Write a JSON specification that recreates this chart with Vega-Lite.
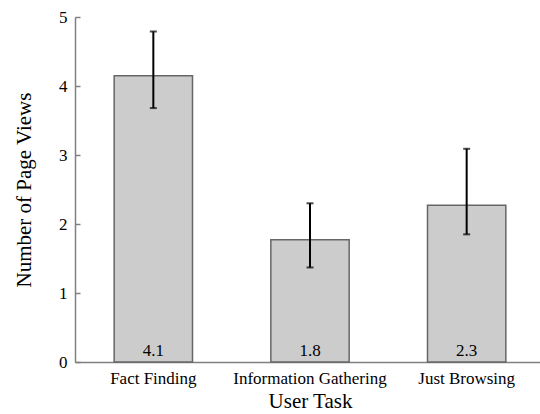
{
  "$schema": "https://vega.github.io/schema/vega-lite/v6.json",
  "width": 470,
  "height": 345,
  "autosize": {"type": "none"},
  "padding": {"left": 75, "top": 17, "right": 0, "bottom": 52},
  "background": "white",
  "data": {
    "values": [
      {"task": "Fact Finding", "mean": 4.15, "low": 3.68, "high": 4.79, "label": "4.1"},
      {"task": "Information Gathering", "mean": 1.77, "low": 1.37, "high": 2.30, "label": "1.8"},
      {"task": "Just Browsing", "mean": 2.27, "low": 1.85, "high": 3.09, "label": "2.3"}
    ]
  },
  "config": {
    "view": {"stroke": null},
    "font": "Liberation Serif",
    "axis": {"grid": false, "labelFont": "Liberation Serif", "titleFont": "Liberation Serif", "labelColor": "black", "titleColor": "black", "titleFontWeight": "normal"},
    "text": {"font": "Liberation Serif"}
  },
  "encoding": {
    "x": {
      "field": "task",
      "type": "nominal",
      "sort": null,
      "scale": {"paddingInner": 0.5, "paddingOuter": 0.25},
      "axis": {
        "title": "User Task",
        "labelAngle": 0,
        "ticks": false,
        "labelFontSize": 17,
        "titleFontSize": 21,
        "domainColor": "#808080",
        "domainWidth": 1.5,
        "labelPadding": 8,
        "titlePadding": 4
      }
    }
  },
  "layer": [
    {
      "mark": {"type": "bar", "fill": "#cccccc", "stroke": "#666666", "strokeWidth": 1.5},
      "encoding": {
        "y": {
          "field": "mean",
          "type": "quantitative",
          "scale": {"domain": [0, 5]},
          "axis": {
            "title": "Number of Page Views",
            "values": [0, 1, 2, 3, 4, 5],
            "format": "d",
            "tickSize": -5,
            "tickColor": "#808080",
            "tickWidth": 1.5,
            "domainColor": "#808080",
            "domainWidth": 1.5,
            "labelFontSize": 17,
            "labelPadding": 13,
            "titleFontSize": 21,
            "titlePadding": 24
          }
        }
      }
    },
    {
      "mark": {
        "type": "errorbar",
        "ticks": {"size": 7, "thickness": 2, "color": "black"},
        "rule": {"strokeWidth": 2, "color": "black"}
      },
      "encoding": {
        "y": {"field": "low", "type": "quantitative", "title": "Number of Page Views"},
        "y2": {"field": "high"}
      }
    },
    {
      "mark": {"type": "text", "baseline": "bottom", "dy": -2, "fontSize": 17, "font": "Liberation Serif", "color": "black"},
      "encoding": {
        "y": {"datum": 0, "type": "quantitative"},
        "text": {"field": "label"}
      }
    }
  ]
}
